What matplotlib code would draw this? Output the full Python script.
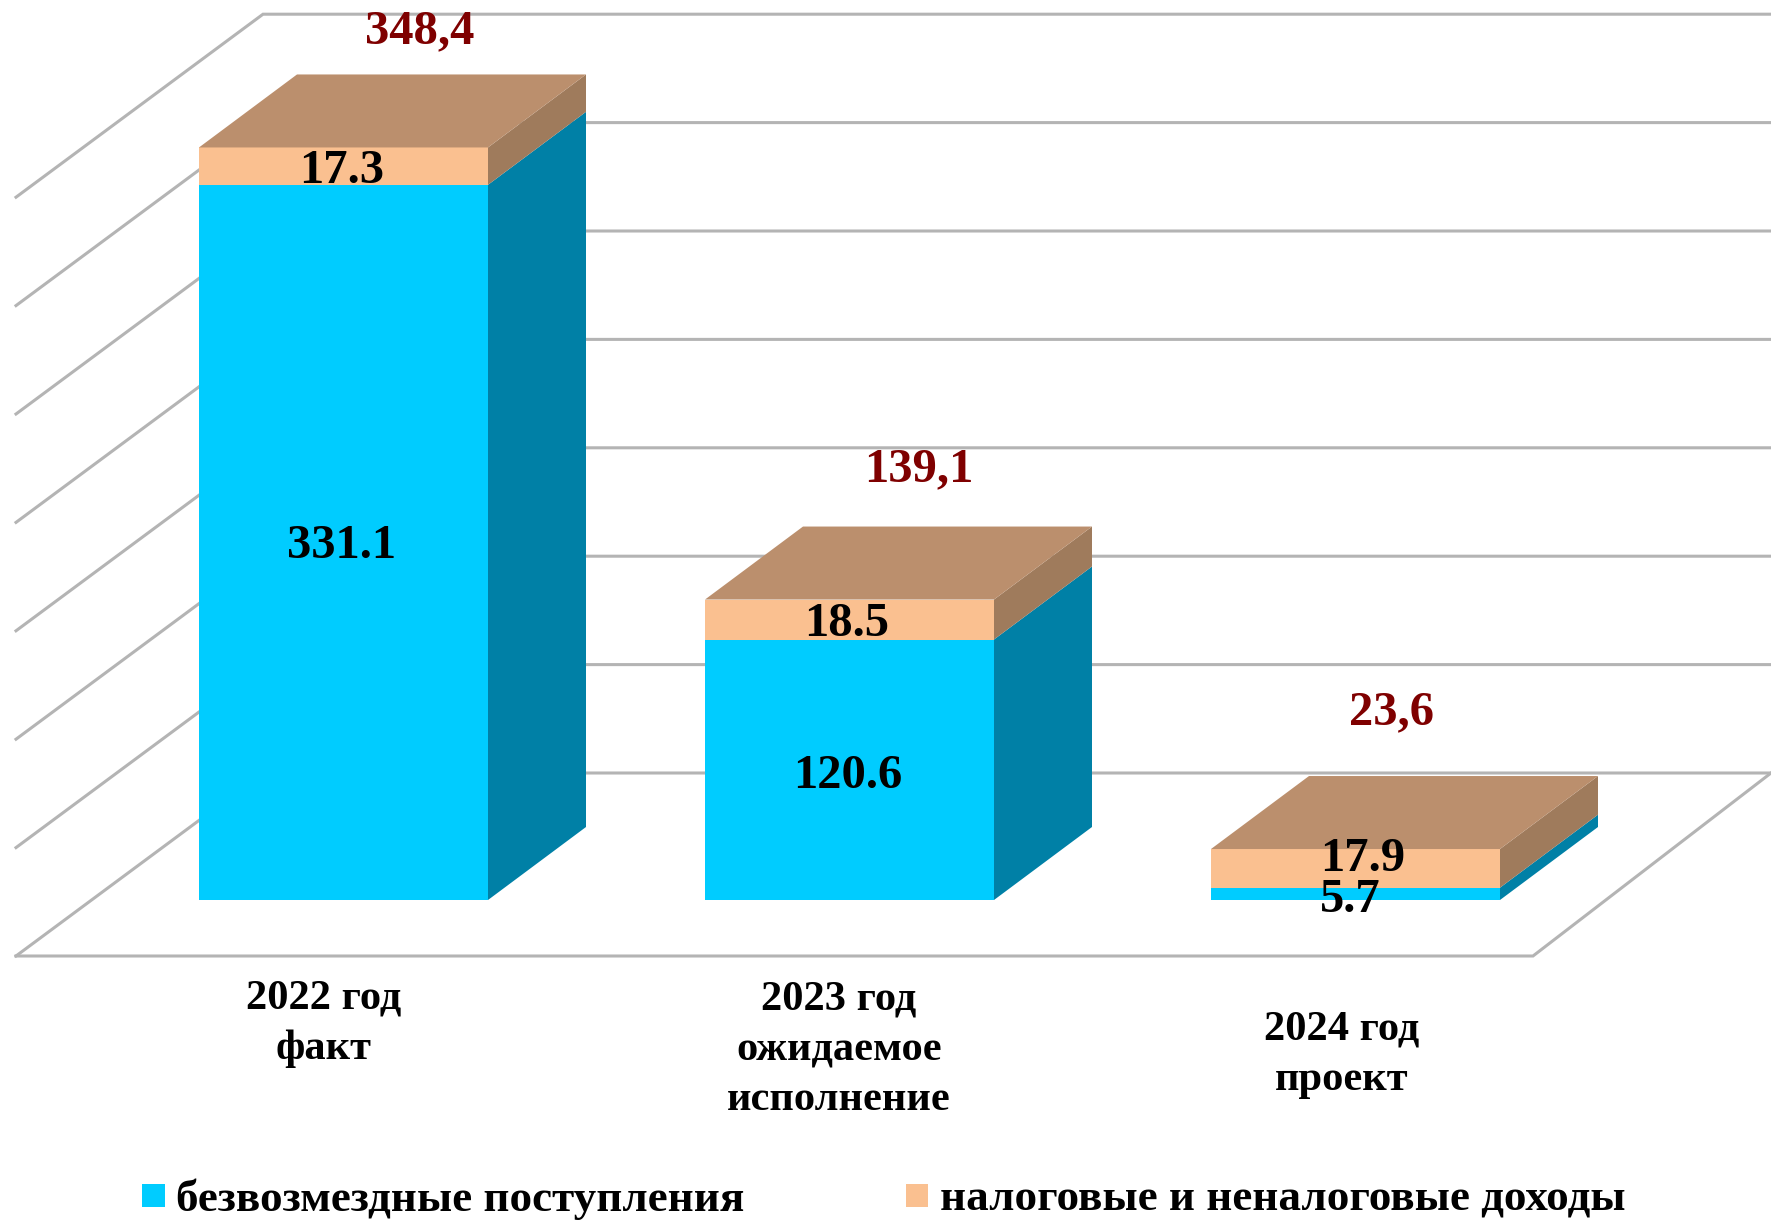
import matplotlib
matplotlib.use("Agg")
import matplotlib.pyplot as plt

categories = ["2022 год\nфакт", "2023 год\nожидаемое\nисполнение", "2024 год\nпроект"]
grants = [331.1, 120.6, 5.7]
taxes = [17.3, 18.5, 17.9]
totals = ["348,4", "139,1", "23,6"]
grid_values = [0, 50, 100, 150, 200, 250, 300, 350]
legend_names = ["безвозмездные поступления", "налоговые и неналоговые доходы"]

# picture geometry, in pixels of the final image
scale = 2.16
base_y = 900
bar_left = [199, 705, 1211]
bar_width = 289
depth_x, depth_y = 98, -73
wall_x, wall_y = 247, -183
floor_left, floor_front_y = 16, 956
floor_right = 1533
grid_step = 108.4 / 50

total_pos = [(420, 31), (919, 469), (1392, 712)]
cat_pos = [(324, 1024), (839, 1050), (1342, 1055)]
grant_label_pos = [(342, 546), (848, 776), (1350, 900)]
tax_label_pos = [(342, 171), (847, 624), (1363, 859)]

plt.rcParams["font.family"] = ["Liberation Serif", "DejaVu Serif"]
plt.rcParams["font.weight"] = "bold"

fig = plt.figure(figsize=(17.71, 12.2), dpi=100)
ax = fig.add_axes([0, 0, 1, 1])
ax.set_xlim(0, 1771)
ax.set_ylim(1220, 0)
ax.axis("off")

line_color = "#b4b4b4"
back_x = floor_left + wall_x
back_y = floor_front_y + wall_y

# side wall and back wall lines
for v in grid_values:
    y = back_y - v * grid_step
    ax.plot([floor_left, back_x, 1771], [y - wall_y, y, y], color=line_color, lw=2.2, zorder=1,
            solid_joinstyle="miter")

# floor
ax.plot([floor_left, floor_right, 1771], [floor_front_y, floor_front_y, back_y], color=line_color, lw=2.2, zorder=1,
        solid_joinstyle="miter")


def box(left, y0, y1, front, side):
    right = left + bar_width
    ax.fill([left, right, right, left], [y0, y0, y1, y1], color=front, lw=0, zorder=3)
    ax.fill([right, right + depth_x, right + depth_x, right],
            [y0, y0 + depth_y, y1 + depth_y, y1], color=side, lw=0, zorder=3)


for i in range(3):
    left = bar_left[i]
    right = left + bar_width
    y1 = base_y - grants[i] * scale
    y2 = y1 - taxes[i] * scale
    box(left, base_y, y1, "#00ccff", "#0080a6")
    box(left, y1, y2, "#fac090", "#9f7b5c")
    # top of the stack
    ax.fill([left, right, right + depth_x, left + depth_x],
            [y2, y2, y2 + depth_y, y2 + depth_y], color="#bb8f6d", lw=0, zorder=3)

    ax.text(*grant_label_pos[i], str(grants[i]), ha="center", va="center", fontsize=35, color="black", zorder=5)
    ax.text(*tax_label_pos[i], str(taxes[i]), ha="center", va="center", fontsize=35, color="black", zorder=5)
    ax.text(*total_pos[i], totals[i], ha="center", va="center", fontsize=35, color="#7f0000", zorder=5)
    ax.text(*cat_pos[i], categories[i], ha="center", va="center", fontsize=30.6, color="black",
            linespacing=1.42, zorder=5)

# legend
ax.fill([142, 165, 165, 142], [1184, 1184, 1207, 1207], color="#00ccff", lw=0)
ax.fill([906, 928, 928, 906], [1184, 1184, 1207, 1207], color="#fac090", lw=0)
ax.text(176, 1199, legend_names[0], ha="left", va="center", fontsize=32.5, color="black")
ax.text(940, 1199, legend_names[1], ha="left", va="center", fontsize=32.5, color="black")

fig.savefig("out.png", dpi=100)
